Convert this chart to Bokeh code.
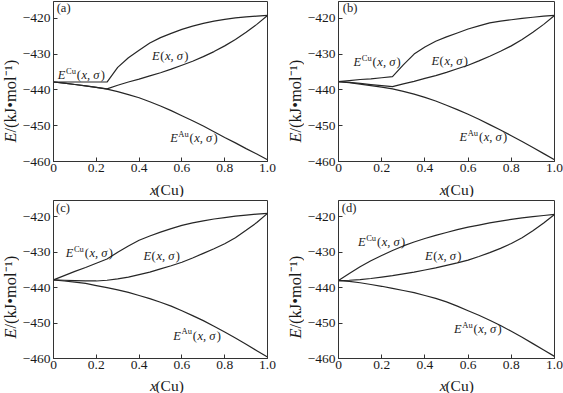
import math
from bokeh.plotting import figure
from bokeh.models import ColumnDataSource, Range1d, FixedTicker
from bokeh.layouts import column, row
from bokeh.embed import file_html
from bokeh.resources import INLINE
from bokeh.core.properties import value

# ---------------- data ----------------
x_cu = [0.0, 0.05, 0.1, 0.15, 0.2, 0.25, 0.3, 0.35, 0.4, 0.45, 0.5,
        0.55, 0.6, 0.65, 0.7, 0.75, 0.8, 0.85, 0.9, 0.95, 1.0]

# panel (a)
a_cu = [-437.8, -437.8, -437.8, -437.8, -437.8, -437.8, -433.7, -431.0, -428.9, -426.9, -425.4,
        -424.2, -423.1, -422.2, -421.4, -420.8, -420.3, -419.9, -419.6, -419.4, -419.2]
a_e = [-437.8, -438.1, -438.5, -438.9, -439.3, -439.7, -438.7, -437.8, -437.0, -436.1, -435.2,
       -434.2, -433.1, -432.0, -430.7, -429.3, -427.7, -425.9, -423.9, -421.7, -419.2]
a_au = [-437.8, -438.1, -438.5, -438.9, -439.3, -439.8, -440.5, -441.3, -442.2, -443.3, -444.5,
        -445.8, -447.2, -448.6, -450.1, -451.7, -453.3, -454.8, -456.4, -457.9, -459.5]

# panel (b)
b_cu = [-437.7, -437.4, -437.1, -436.9, -436.6, -436.3, -433.0, -430.0, -428.0, -426.4, -425.2,
        -424.1, -423.0, -422.1, -421.3, -420.8, -420.4, -420.0, -419.7, -419.4, -419.2]
b_e = [-437.7, -437.9, -438.2, -438.5, -438.8, -439.1, -438.3, -437.6, -436.8, -436.0, -435.1,
       -434.1, -433.1, -431.9, -430.6, -429.2, -427.7, -425.9, -423.9, -421.7, -419.2]
b_au = [-437.7, -438.0, -438.4, -438.8, -439.2, -439.7, -440.4, -441.2, -442.1, -443.1, -444.3,
        -445.5, -446.8, -448.2, -449.7, -451.2, -452.8, -454.4, -456.1, -457.8, -459.5]

# panel (c)
c_cu = [-437.8, -436.6, -435.4, -434.3, -433.1, -431.9, -430.0, -428.2, -426.6, -425.4, -424.3,
        -423.3, -422.4, -421.7, -421.1, -420.6, -420.2, -419.8, -419.5, -419.2, -419.0]
c_e = [-437.8, -437.9, -438.0, -438.1, -438.1, -437.9, -437.5, -437.0, -436.3, -435.6, -434.7,
       -433.8, -432.8, -431.6, -430.3, -429.0, -427.6, -425.9, -423.8, -421.6, -419.0]
c_au = [-437.8, -438.1, -438.4, -438.8, -439.4, -440.0, -440.6, -441.3, -442.2, -443.1, -444.1,
        -445.2, -446.5, -447.9, -449.3, -450.9, -452.5, -454.2, -456.0, -457.8, -459.6]

# panel (d)
d_cu = [-438.0, -436.0, -434.1, -432.4, -430.9, -429.5, -428.2, -427.1, -426.1, -425.2, -424.4,
        -423.6, -422.9, -422.3, -421.7, -421.2, -420.7, -420.3, -419.9, -419.6, -419.3]
d_e = [-438.0, -437.9, -437.7, -437.4, -437.0, -436.6, -436.1, -435.6, -435.0, -434.4, -433.7,
       -433.0, -432.2, -431.2, -430.1, -428.9, -427.5, -425.9, -423.9, -421.7, -419.3]
d_au = [-438.0, -438.2, -438.6, -439.1, -439.6, -440.2, -440.8, -441.4, -442.2, -443.0, -444.0,
        -445.2, -446.5, -447.8, -449.2, -450.7, -452.3, -454.0, -455.8, -457.6, -459.4]

x_ticks = [0, 0.2, 0.4, 0.6, 0.8, 1.0]
x_tick_labels = ["0", "0.2", "0.4", "0.6", "0.8", "1.0"]
y_ticks = [-460, -450, -440, -430, -420]
y_tick_labels = ["\u2212460", "\u2212450", "\u2212440", "\u2212430", "\u2212420"]

panel_tags = ["(a)", "(b)", "(c)", "(d)"]
# label anchors (left edge x, baseline y): tag, E^Cu, E, E^Au
tag_pos = [(0.015, -418.0), (0.02, -418.0), (0.012, -418.4), (0.015, -418.4)]
cu_pos = [(0.02, -436.6), (0.07, -433.0), (0.057, -430.9), (0.09, -427.9)]
e_pos = [(0.46, -431.2), (0.43, -432.7), (0.42, -431.8), (0.40, -431.9)]
au_pos = [(0.545, -454.1), (0.56, -454.0), (0.56, -454.3), (0.535, -452.5)]

FONT = "Liberation Serif"
INK = "#1a1a1a"
MAIN = 12.5
SUP = 8.5
TS = 15.5      # x title size
YS = 16.5      # y title size
DESC = 0.22    # baseline correction (fraction of font size)
Y_LO = -460
FRAME_H_TOP, FRAME_H_BOT = 160, 158
Y_HI_TOP = Y_LO + FRAME_H_TOP / 3.58
Y_HI_BOT = Y_LO + FRAME_H_BOT / 3.54

ROMAN = {"E": 0.611, "C": 0.667, "u": 0.5, "A": 0.722, "(": 0.333, ")": 0.333, "x": 0.5,
         ",": 0.25, " ": 0.25, "\u03c3": 0.55, "/": 0.278, "k": 0.5, "J": 0.389,
         "\u2022": 0.35, "m": 0.778, "o": 0.5, "l": 0.278, "\u207b": 0.33, "\u00b9": 0.3}
ITALIC = dict(ROMAN, x=0.444)


def tw(s, italic, size):
    t = ITALIC if italic else ROMAN
    return sum(t.get(ch, 0.5) for ch in s) * size


def term(sup):
    parts = [("E", True, MAIN, 0)]
    if sup:
        parts.append((sup, False, SUP, 5))
    parts += [("(", False, MAIN, 0), ("x, \u03c3", True, MAIN, 0), (")", False, MAIN, 0)]
    return parts


def make_panel(idx, cu, e, au, w, h, bl, br, bt, bb, y_hi):
    p = figure(width=w, height=h, output_backend="svg", toolbar_location=None,
               x_range=Range1d(0, 1), y_range=Range1d(Y_LO, y_hi),
               min_border_left=bl, min_border_right=br, min_border_top=bt, min_border_bottom=bb)
    p.background_fill_color = "white"
    p.border_fill_color = "white"
    p.outline_line_color = "#333333"
    p.outline_line_width = 1
    p.grid.visible = False
    for ax in (p.xaxis[0], p.yaxis[0]):
        ax.axis_line_color = "#333333"
        ax.major_tick_line_color = "#333333"
        ax.major_tick_in = 4
        ax.major_tick_out = 0
        ax.minor_tick_line_color = None
        ax.major_label_text_font = FONT
        ax.major_label_text_font_size = "13.5px"
        ax.major_label_text_color = INK
    p.xaxis.ticker = FixedTicker(ticks=x_ticks)
    p.xaxis.major_label_overrides = dict(zip(x_ticks, x_tick_labels))
    p.xaxis.major_label_standoff = 2
    p.yaxis.ticker = FixedTicker(ticks=y_ticks)
    p.yaxis.major_label_overrides = dict(zip(y_ticks, y_tick_labels))
    p.yaxis.major_label_standoff = 3

    for ys in (cu, e, au):
        p.line(x_cu, ys, line_color="#262626", line_width=1.2)

    rows = dict(x=[], y=[], text=[], dx=[], dy=[], size=[], style=[])
    groups = [(tag_pos[idx], [(panel_tags[idx], False, MAIN, 0)]),
              (cu_pos[idx], term("Cu")),
              (e_pos[idx], term(None)),
              (au_pos[idx], term("Au"))]
    for (x0, y0), parts in groups:
        off = 0.0
        for txt, it, size, rise in parts:
            rows["x"].append(x0)
            rows["y"].append(y0)
            rows["text"].append(txt)
            rows["dx"].append(off)
            rows["dy"].append(-rise - DESC * size)
            rows["size"].append(f"{size}px")
            rows["style"].append("italic" if it else "normal")
            off += tw(txt, it, size) + (0.6 if size == MAIN else 0.8)
    src = ColumnDataSource(rows)
    p.text(x="x", y="y", text="text", x_offset="dx", y_offset="dy", source=src,
           text_font=value(FONT), text_font_size=dict(field="size"),
           text_font_style=dict(field="style"), text_color=INK,
           text_align="left", text_baseline="alphabetic")
    return p


def strip(w, h):
    s = figure(width=w, height=h, output_backend="svg", toolbar_location=None,
               x_range=Range1d(0, w), y_range=Range1d(0, h), min_border=0,
               x_axis_type=None, y_axis_type=None)
    s.outline_line_color = None
    s.background_fill_color = "white"
    s.border_fill_color = "white"
    return s


def x_title(w, h, cx, base_from_top):
    s = strip(w, h)
    parts = [("x", True), ("(Cu)", False)]
    total = sum(tw(t, it, TS) for t, it in parts)
    xs, txt, sty = [], [], []
    off = cx - total / 2
    for t, it in parts:
        xs.append(off)
        txt.append(t)
        sty.append("italic" if it else "normal")
        off += tw(t, it, TS)
    yb = h - base_from_top + DESC * TS
    src = ColumnDataSource(dict(x=xs, y=[yb] * len(xs), text=txt, style=sty))
    s.text(x="x", y="y", text="text", source=src, text_font=value(FONT),
           text_font_size=f"{TS}px", text_font_style=dict(field="style"), text_color=INK,
           text_align="left", text_baseline="alphabetic")
    return s


def y_title(w, h, cx, cy):
    s = strip(w, h)
    parts = [("E", True), ("/(kJ\u2022mol\u207b\u00b9)", False)]
    total = sum(tw(t, it, YS) for t, it in parts)
    xs, ys, txt, sty = [], [], [], []
    off = cy - total / 2
    for t, it in parts:
        xs.append(cx)
        ys.append(off)
        txt.append(t)
        sty.append("italic" if it else "normal")
        off += tw(t, it, YS)
    src = ColumnDataSource(dict(x=xs, y=ys, text=txt, style=sty))
    s.text(x="x", y="y", text="text", source=src, angle=math.pi / 2, text_font=value(FONT),
           text_font_size=f"{YS}px", text_font_style=dict(field="style"),
           text_color=INK, text_align="left", text_baseline="middle")
    return s


# ---- layout (pixels) ----
YT_A, YT_B = 19, 19
BL_A, BL_B = 31, 32
BR_A, BR_B = 18, 9
FW_A, FW_B = 217, 218
WA = BL_A + FW_A + BR_A
WB = BL_B + FW_B + BR_B
BB_TOP, BB_BOT = 19, 18
H_TOP = 1 + FRAME_H_TOP + BB_TOP
H_BOT = 3 + FRAME_H_BOT + BB_BOT
S_TOP, S_BOT = 17, 17

pa = make_panel(0, a_cu, a_e, a_au, WA, H_TOP, BL_A, BR_A, 1, BB_TOP, Y_HI_TOP)
pb = make_panel(1, b_cu, b_e, b_au, WB, H_TOP, BL_B, BR_B, 1, BB_TOP, Y_HI_TOP)
pc = make_panel(2, c_cu, c_e, c_au, WA, H_BOT, BL_A, BR_A, 3, BB_BOT, Y_HI_BOT)
pd = make_panel(3, d_cu, d_e, d_au, WB, H_BOT, BL_B, BR_B, 3, BB_BOT, Y_HI_BOT)

top = row(y_title(YT_A, H_TOP + S_TOP, 9.6, 96),
          column(pa, x_title(WA, S_TOP, BL_A + FW_A / 2 - 2, 12.2)),
          y_title(YT_B, H_TOP + S_TOP, 9.6, 96),
          column(pb, x_title(WB, S_TOP, BL_B + FW_B / 2 - 2, 12.2)))
bot = row(y_title(YT_A, H_BOT + S_BOT, 9.6, 96),
          column(pc, x_title(WA, S_BOT, BL_A + FW_A / 2 - 2, 12.2)),
          y_title(YT_B, H_BOT + S_BOT, 9.6, 96),
          column(pd, x_title(WB, S_BOT, BL_B + FW_B / 2 - 2, 12.2)))

layout = column(top, bot)
open("out.html", "w").write(file_html(layout, INLINE))
